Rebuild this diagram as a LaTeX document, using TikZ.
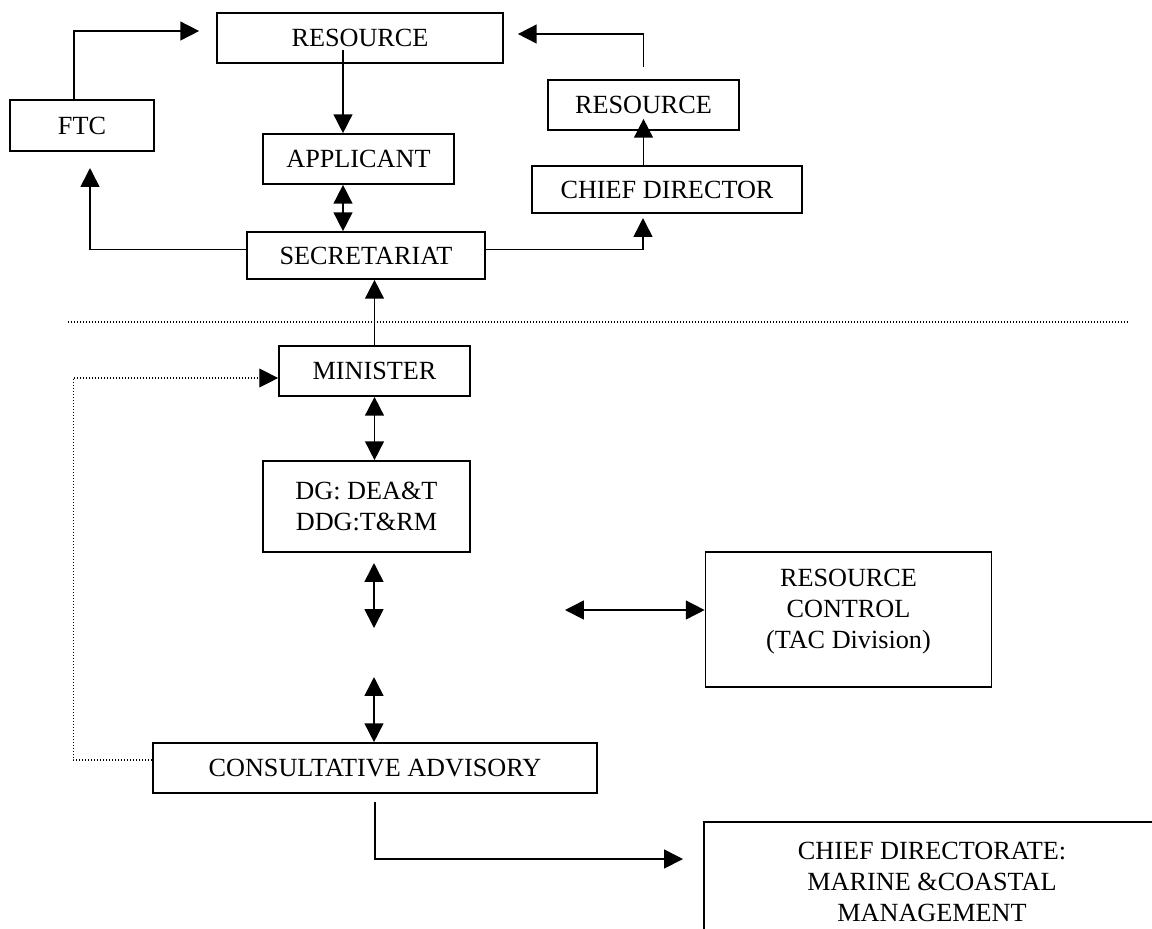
\documentclass[tikz,border=0pt]{standalone}
\usepackage{fontspec}
\setmainfont{Liberation Serif}
\usetikzlibrary{arrows.meta}
\def\px{0.45pt}
\tikzset{
    box/.style={
        draw,
        line width=0.75pt,
        inner sep=0pt,
        align=center
    },
    arr/.style={
        -{Triangle[length=8.5pt,width=8.5pt]},
        line width=0.75pt
    },
    dbl/.style={
        {Triangle[length=8.5pt,width=8.5pt]}-{Triangle[length=8.5pt,width=8.5pt]},
        line width=0.75pt
    },
    dotarr/.style={
        arr,
        line width=0.5pt,
        dash pattern=on 0.5pt off 0.85pt
    },
    sepline/.style={
        line width=0.5pt,
        dash pattern=on 0.5pt off 0.85pt
    },
    every node/.style={
        font=\fontsize{11.8}{14}\selectfont
    }
}

\begin{document}
\begin{tikzpicture}[x=\px, y=-\px]
\clip (0,0) rectangle (1152,928);

% upper part
\node[box, minimum width=286*\px, minimum height=50*\px] (res1) at (360,38) {RESOURCE};
\node[box, minimum width=144*\px, minimum height=51*\px] (ftc) at (82,125.5) {FTC};
\node[box, minimum width=191*\px, minimum height=50*\px] (appl) at (358.5,159) {APPLICANT};
\node[box, minimum width=238*\px, minimum height=47*\px] (secr) at (366,255.5) {SECRETARIAT};
\node[box, minimum width=191*\px, minimum height=50*\px] (res2) at (643.5,105) {RESOURCE};
\node[box, minimum width=270*\px, minimum height=47*\px] (chief) at (667,189.5) {CHIEF DIRECTOR};

% lower part
\node[box, minimum width=191*\px, minimum height=50*\px] (minister) at (374.5,371) {MINISTER};
\node[box, minimum width=207*\px, minimum height=91*\px] (dg) at (366.5,506.5) {DG: DEA\&T\\DDG:T\&RM};
\node[box, minimum width=286*\px, minimum height=135*\px] (rescon) at (848.5,619.5) {RESOURCE\\CONTROL\\(TAC Division)\\[-4.5pt]\mbox{}};
\node[box, minimum width=444*\px, minimum height=50*\px] (consult) at (375,768) {CONSULTATIVE ADVISORY};
\node[box, minimum width=456*\px, minimum height=120*\px] (cdmc) at (932,882) {CHIEF DIRECTORATE:\\MARINE \&COASTAL\\MANAGEMENT};

% free ends
\coordinate (rs) at (343,50);
\coordinate (k4) at (90,168);
\coordinate (k5) at (643,218);
\coordinate (m1) at (374,563);
\coordinate (m2) at (374,628);
\coordinate (m3) at (374,677);
\coordinate (h1) at (565,610);
\coordinate (t14) at (683,859);

% connectors
\draw[arr, shorten >=17*\px] ([xshift=-8*\px]ftc.north) |- ([yshift=7*\px]res1.west);
\draw[arr] (rs) -- (rs |- appl.north);
\draw[dbl] (rs |- appl.south) -- (rs |- secr.north);
\draw[arr] ([yshift=6*\px]secr.west) -| (k4);
\draw[arr] ([yshift=6*\px]secr.east) -| (k5);
\draw[arr, shorten >=-12*\px] (chief.north -| res2.south) -- (res2.south);
\draw[arr, shorten <=12*\px, shorten >=14*\px] (res2.north) |- ([yshift=4*\px]res1.east);

\draw[sepline] (68,322) -- (1130,322);

\draw[arr] (minister.north) -- (minister.north |- secr.south);
\draw[dotarr] ([yshift=8*\px]consult.west) -- ++(-79,0) |- ([yshift=-7*\px]minister.west);
\draw[dbl] (minister.south) -- (minister.south |- dg.north);
\draw[dbl] (m1) -- (m2);
\draw[dbl] (m3) -- (m3 |- consult.north);
\draw[dbl] (h1) -- (h1 -| rescon.west);
\draw[arr, shorten <=8*\px] (consult.south) |- (t14);
\end{tikzpicture}
\end{document}
